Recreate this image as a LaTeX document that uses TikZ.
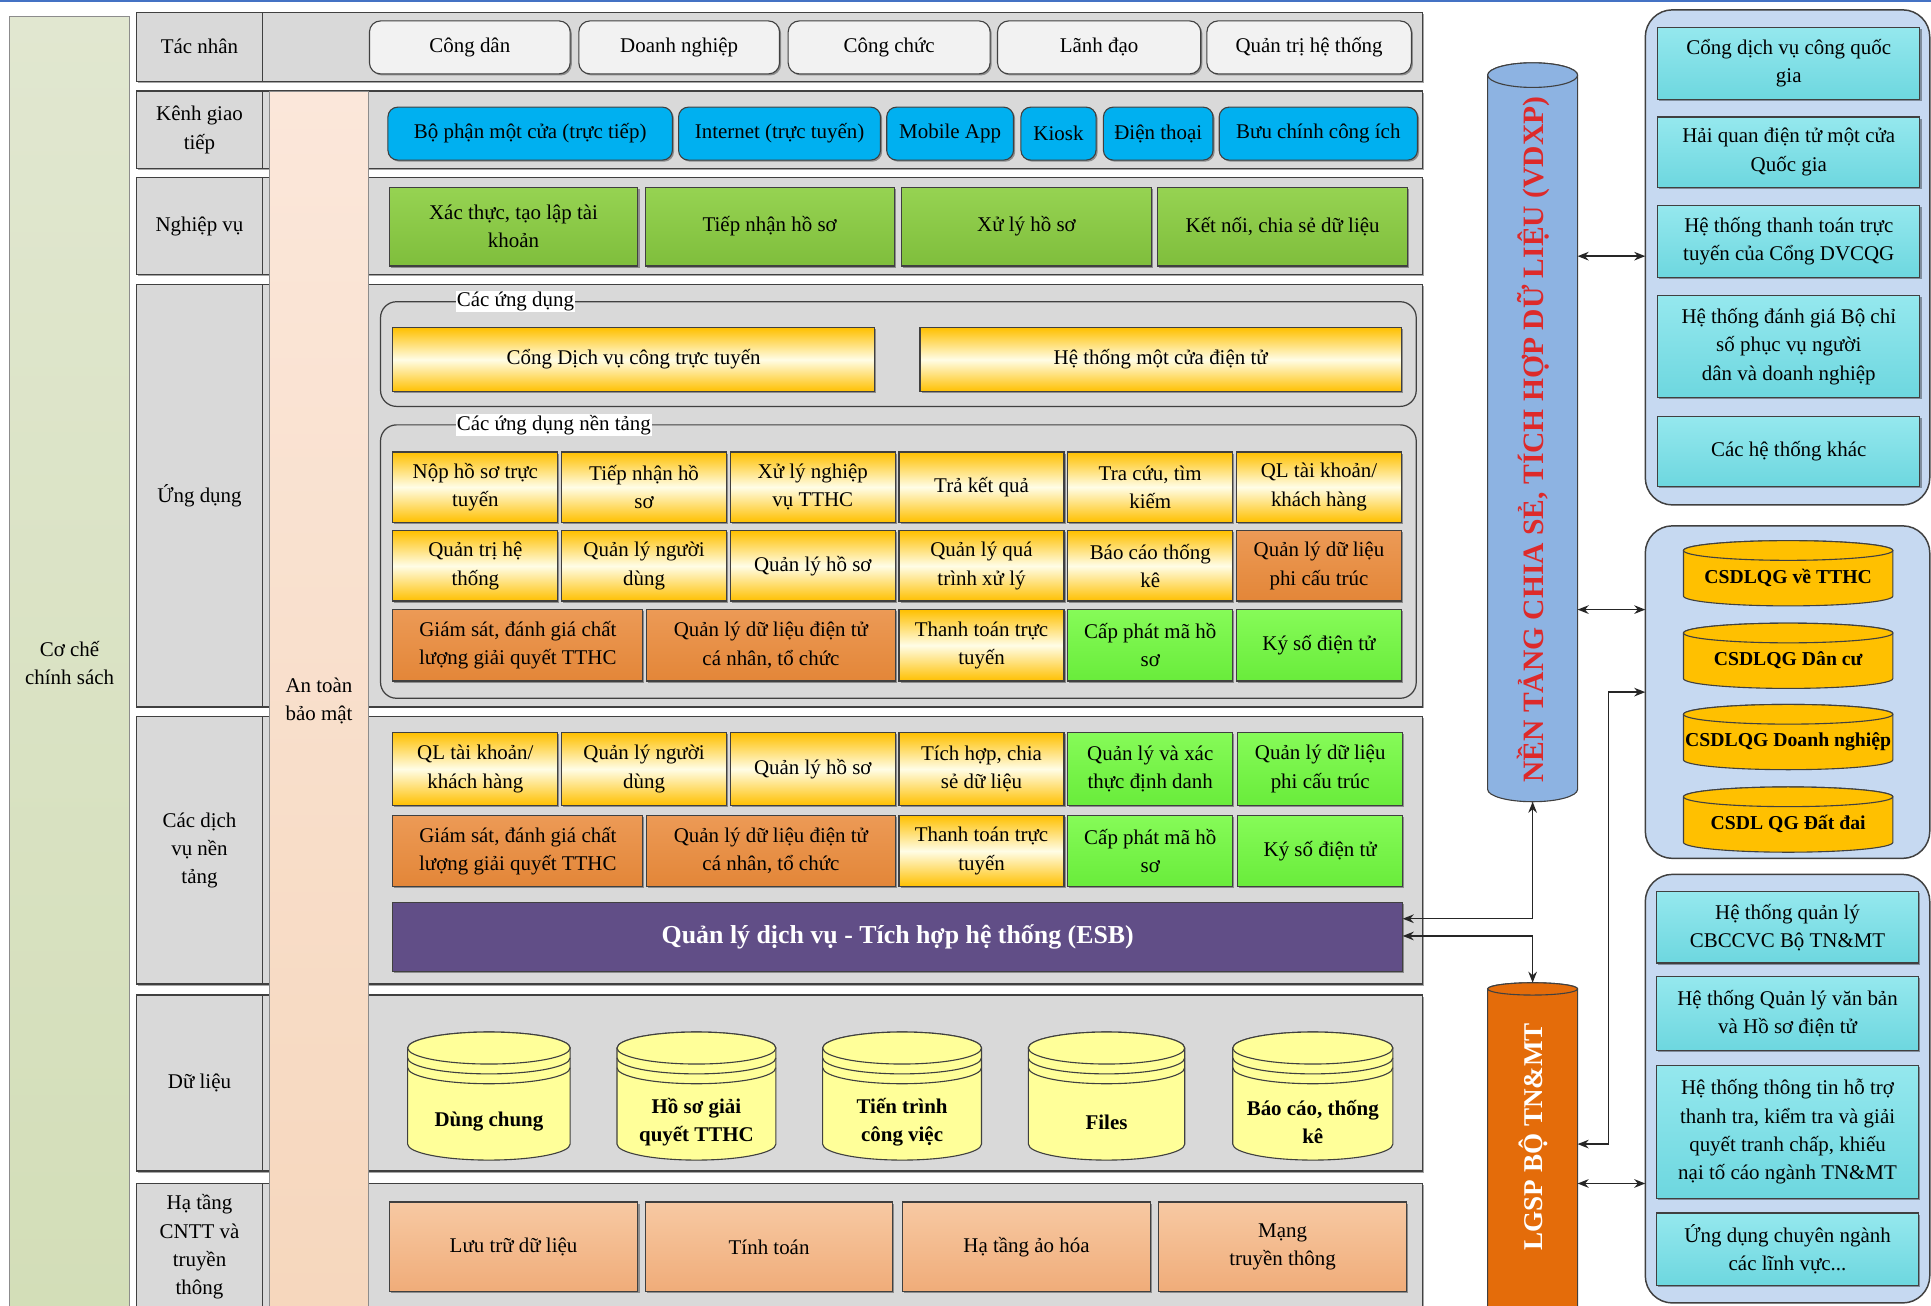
\documentclass[tikz,border=0pt]{standalone}
\usepackage{fontspec}
\setmainfont{Liberation Serif}
\usetikzlibrary{arrows.meta,shadows,calc}
\definecolor{panelgray}{HTML}{D9D9D9}
\definecolor{bordc}{HTML}{404040}
\definecolor{actorfill}{HTML}{F2F2F2}
\definecolor{chanblue}{HTML}{00B0F0}
\definecolor{bizgreenT}{HTML}{96D352}
\definecolor{bizgreenB}{HTML}{7FBE3C}
\definecolor{yel}{HTML}{FFC000}
\definecolor{yelmid}{HTML}{FFFDE6}
\definecolor{orgT}{HTML}{EC9A56}
\definecolor{orgB}{HTML}{E38638}
\definecolor{grnT}{HTML}{86FB58}
\definecolor{grnB}{HTML}{69EC3B}
\definecolor{esbc}{HTML}{614E87}
\definecolor{dbyel}{HTML}{FFFF99}
\definecolor{infT}{HTML}{F7C9A3}
\definecolor{infB}{HTML}{F0AC79}
\definecolor{vdxpc}{HTML}{8DB3E2}
\definecolor{vdxpred}{HTML}{DD2A2A}
\definecolor{grpc}{HTML}{C6D9F1}
\definecolor{cyT}{HTML}{95E8EE}
\definecolor{cyB}{HTML}{6DD7DF}
\definecolor{csdl}{HTML}{FFC000}
\definecolor{lgspc}{HTML}{E46C0A}
\definecolor{peachT}{HTML}{FBE7DA}
\definecolor{peachB}{HTML}{F6D7BD}
\definecolor{policyT}{HTML}{E1E7D0}
\definecolor{policyB}{HTML}{D3DEB8}
\definecolor{topblue}{HTML}{4472C4}
\newcommand\fsN{\fontsize{17}{23}\selectfont}
\newcommand\mybox[7]{%
  \pgfmathsetmacro\bxW{#5-(#3)}\pgfmathsetmacro\bxH{#6-(#4)}%
  \pgfmathsetmacro\bxX{(#3+#5)/2}\pgfmathsetmacro\bxY{(#4+#6)/2}%
  \node[#2, minimum width=\bxW pt, minimum height=\bxH pt] (#1) at (\bxX,\bxY) {#7};}
\newcommand\drawcyl[7]{%
  \pgfmathsetmacro\cyA{(#2+#3)/2}\pgfmathsetmacro\cyR{(#3-#2)/2}%
  \pgfmathsetmacro\cyT{#4+#6}\pgfmathsetmacro\cyB{#5-#6}%
  \path[draw=bordc, line width=0.9pt, fill=#1, #7] (#2,\cyT) -- (#2,\cyB)
    arc[start angle=180, end angle=360, x radius=\cyR pt, y radius=#6pt]
    -- (#3,\cyT) arc[start angle=0, end angle=180, x radius=\cyR pt, y radius=#6pt] -- cycle;
  \path[draw=bordc, line width=0.9pt, fill=#1] (\cyA,\cyT) ellipse[x radius=\cyR pt, y radius=#6pt];}
\newcommand\datacyl[5]{%
  \drawcyl{dbyel}{#1}{#2}{#3}{#4}{#5}{}%
  \pgfmathsetmacro\cyRa{#3+#5+8}\pgfmathsetmacro\cyRb{#3+#5+16}%
  \draw[draw=bordc, line width=0.9pt] (#1,\cyRa) arc[start angle=180,end angle=360,x radius=\cyR pt,y radius=#5pt];
  \draw[draw=bordc, line width=0.9pt] (#1,\cyRb) arc[start angle=180,end angle=360,x radius=\cyR pt,y radius=#5pt];}
\begin{document}
\begin{tikzpicture}[x=1pt,y=-1pt,
  every node/.style={inner sep=1pt, outer sep=0pt, align=center, font=\fsN},
  shad/.style={drop shadow={shadow xshift=1.3pt, shadow yshift=-1.3pt, opacity=.35, fill=black}},
  cell/.style={draw=bordc, line width=0.9pt, shad},
  panel/.style={draw=bordc, line width=1.2pt, fill=panelgray, shad},
  lbl/.style={draw=bordc, line width=1.2pt, fill=panelgray},
  policycol/.style={draw=black!45, line width=0.8pt, top color=policyT, bottom color=policyB},
  peachcol/.style={draw=black!45, line width=0.8pt, top color=peachT, bottom color=peachB},
  actor/.style={cell, fill=actorfill, rounded corners=9pt},
  chan/.style={cell, fill=chanblue, rounded corners=8pt},
  biz/.style={cell, top color=bizgreenT, bottom color=bizgreenB},
  ybox/.style={cell, top color=yel, bottom color=yel, middle color=yelmid},
  obox/.style={cell, top color=orgT, bottom color=orgB},
  gbox/.style={cell, top color=grnT, bottom color=grnB},
  esbbox/.style={cell, fill=esbc, text=white, font=\bfseries\fontsize{21}{24}\selectfont},
  infra/.style={cell, top color=infT, bottom color=infB},
  grpline/.style={draw=bordc, line width=1pt, rounded corners=13pt},
  grp/.style={draw=bordc, line width=1.2pt, fill=grpc, rounded corners=22pt},
  cyan/.style={cell, top color=cyT, bottom color=cyB},
  holder/.style={draw=none, fill=none},
  dbtext/.style={font=\bfseries\fsN},
  csdltext/.style={font=\bfseries\fontsize{16}{20}\selectfont},
  conn/.style={line width=1.2pt, draw=black!85, arrows={Stealth[length=9pt,width=7pt]-Stealth[length=9pt,width=7pt]}}
]
\useasboundingbox (0,0) rectangle (1568,1060);
\begin{scope}
\clip (0,0) rectangle (1568,1060);
\fill[white] (0,0) rectangle (1568,1060);
\draw[topblue, line width=2pt] (0,1) -- (1568,1);

% policy column
\mybox{policy}{policycol}{8}{13}{105}{1064}{Cơ chế\\chính sách}

% rows
\mybox{rowA}{panel}{111}{10}{1155}{66}{}
\mybox{lA}{lbl}{111}{10}{213}{66}{Tác nhân}
\mybox{rowK}{panel}{111}{74}{1155}{137}{}
\mybox{lK}{lbl}{111}{74}{213}{137}{Kênh giao\\tiếp}
\mybox{rowN}{panel}{111}{144}{1155}{223}{}
\mybox{lN}{lbl}{111}{144}{213}{223}{Nghiệp vụ}
\mybox{rowU}{panel}{111}{231}{1155}{574}{}
\mybox{lU}{lbl}{111}{231}{213}{574}{Ứng dụng}
\mybox{rowS}{panel}{111}{582}{1155}{799}{}
\mybox{lS}{lbl}{111}{582}{213}{799}{Các dịch\\vụ nền\\tảng}
\mybox{rowD}{panel}{111}{808}{1155}{951}{}
\mybox{lD}{lbl}{111}{808}{213}{951}{Dữ liệu}
\mybox{rowH}{panel}{111}{961}{1155}{1064}{}
\mybox{lH}{lbl}{111}{961}{213}{1064}{Hạ tầng\\CNTT và\\truyền\\thông}

% security column
\mybox{security}{peachcol}{219}{74}{299}{1064}{An toàn\\bảo mật}

% actors
\mybox{a1}{actor}{300}{17}{463}{60}{Công dân}
\mybox{a2}{actor}{470}{17}{633}{60}{Doanh nghiệp}
\mybox{a3}{actor}{640}{17}{804}{60}{Công chức}
\mybox{a4}{actor}{810}{17}{975}{60}{Lãnh đạo}
\mybox{a5}{actor}{980}{17}{1146}{60}{Quản trị hệ thống}

% channels
\mybox{c1}{chan}{315}{87}{546}{130}{Bộ phận một cửa (trực tiếp)}
\mybox{c2}{chan}{551}{87}{715}{130}{Internet (trực tuyến)}
\mybox{c3}{chan}{720}{87}{823}{130}{Mobile App}
\mybox{c4}{chan}{829}{87}{890}{130}{Kiosk}
\mybox{c5}{chan}{896}{87}{985}{130}{Điện thoại}
\mybox{c6}{chan}{990}{87}{1151}{130}{Bưu chính công ích}

% business
\mybox{b1}{biz}{316}{152}{518}{216}{Xác thực, tạo lập tài\\khoản}
\mybox{b2}{biz}{524}{152}{726}{216}{Tiếp nhận hồ sơ}
\mybox{b3}{biz}{732}{152}{935}{216}{Xử lý hồ sơ}
\mybox{b4}{biz}{940}{152}{1143}{216}{Kết nối, chia sẻ dữ liệu}

% applications
\mybox{gApps}{grpline}{309}{245}{1150}{330}{}
\node[anchor=west, fill=white] (gAppsL) at (370,245) {Các ứng dụng};
\mybox{u1}{ybox}{319}{266}{710}{318}{Cổng Dịch vụ công trực tuyến}
\mybox{u2}{ybox}{747}{266}{1138}{318}{Hệ thống một cửa điện tử}

\mybox{gPlat}{grpline}{309}{345}{1150}{567}{}
\node[anchor=west, fill=white] (gPlatL) at (370,345) {Các ứng dụng nền tảng};
\mybox{p11}{ybox}{319}{367}{453}{424}{Nộp hồ sơ trực\\tuyến}
\mybox{p12}{ybox}{456}{367}{590}{424}{Tiếp nhận hồ\\sơ}
\mybox{p13}{ybox}{593}{367}{727}{424}{Xử lý nghiệp\\vụ TTHC}
\mybox{p14}{ybox}{730}{367}{864}{424}{Trả kết quả}
\mybox{p15}{ybox}{867}{367}{1001}{424}{Tra cứu, tìm\\kiếm}
\mybox{p16}{ybox}{1004}{367}{1138}{424}{QL tài khoản/\\khách hàng}
\mybox{p21}{ybox}{319}{431}{453}{488}{Quản trị hệ\\thống}
\mybox{p22}{ybox}{456}{431}{590}{488}{Quản lý người\\dùng}
\mybox{p23}{ybox}{593}{431}{727}{488}{Quản lý hồ sơ}
\mybox{p24}{ybox}{730}{431}{864}{488}{Quản lý quá\\trình xử lý}
\mybox{p25}{ybox}{867}{431}{1001}{488}{Báo cáo thống\\kê}
\mybox{p26}{obox}{1004}{431}{1138}{488}{Quản lý dữ liệu\\phi cấu trúc}
\mybox{p31}{obox}{319}{495}{522}{553}{Giám sát, đánh giá chất\\lượng giải quyết TTHC}
\mybox{p32}{obox}{525}{495}{727}{553}{Quản lý dữ liệu điện tử\\cá nhân, tổ chức}
\mybox{p33}{ybox}{730}{495}{864}{553}{Thanh toán trực\\tuyến}
\mybox{p34}{gbox}{867}{495}{1001}{553}{Cấp phát mã hồ\\sơ}
\mybox{p35}{gbox}{1004}{495}{1138}{553}{Ký số điện tử}

% platform services
\mybox{s11}{ybox}{319}{595}{453}{654}{QL tài khoản/\\khách hàng}
\mybox{s12}{ybox}{456}{595}{590}{654}{Quản lý người\\dùng}
\mybox{s13}{ybox}{593}{595}{727}{654}{Quản lý hồ sơ}
\mybox{s14}{ybox}{730}{595}{864}{654}{Tích hợp, chia\\sẻ dữ liệu}
\mybox{s15}{gbox}{867}{595}{1001}{654}{Quản lý và xác\\thực định danh}
\mybox{s16}{gbox}{1005}{595}{1139}{654}{Quản lý dữ liệu\\phi cấu trúc}
\mybox{s21}{obox}{319}{662}{522}{720}{Giám sát, đánh giá chất\\lượng giải quyết TTHC}
\mybox{s22}{obox}{525}{662}{727}{720}{Quản lý dữ liệu điện tử\\cá nhân, tổ chức}
\mybox{s23}{ybox}{730}{662}{864}{720}{Thanh toán trực\\tuyến}
\mybox{s24}{gbox}{867}{662}{1001}{720}{Cấp phát mã hồ\\sơ}
\mybox{s25}{gbox}{1005}{662}{1139}{720}{Ký số điện tử}
\mybox{esb}{esbbox}{319}{733}{1139}{789}{Quản lý dịch vụ - Tích hợp hệ thống (ESB)}

% data
\datacyl{331}{463}{838}{942}{13}
\mybox{d1}{holder, dbtext}{331}{880}{463}{942}{Dùng chung}
\datacyl{501}{630}{838}{942}{13}
\mybox{d2}{holder, dbtext}{501}{880}{630}{942}{Hồ sơ giải\\quyết TTHC}
\datacyl{668}{797}{838}{942}{13}
\mybox{d3}{holder, dbtext}{668}{880}{797}{942}{Tiến trình\\công việc}
\datacyl{835}{962}{838}{942}{13}
\mybox{d4}{holder, dbtext}{835}{880}{962}{942}{Files}
\datacyl{1001}{1131}{838}{942}{13}
\mybox{d5}{holder, dbtext}{1001}{880}{1131}{942}{Báo cáo, thống\\kê}

% infrastructure
\mybox{i1}{infra}{316}{976}{518}{1049}{Lưu trữ dữ liệu}
\mybox{i2}{infra}{524}{976}{725}{1049}{Tính toán}
\mybox{i3}{infra}{733}{976}{934}{1049}{Hạ tầng ảo hóa}
\mybox{i4}{infra}{941}{976}{1142}{1049}{Mạng\\truyền thông}

% VDXP
\drawcyl{vdxpc}{1208}{1281}{51}{651}{10}{}
\mybox{vdxp}{holder}{1208}{51}{1281}{651}{}
\node[rotate=90, text=vdxpred, font=\bfseries\fontsize{24}{28}\selectfont] (vdxptxt) at (1245,357) {NỀN TẢNG CHIA SẺ, TÍCH HỢP DỮ LIỆU (VDXP)};

% LGSP
\drawcyl{lgspc}{1208}{1281}{798}{1090}{5}{}
\mybox{lgsp}{holder}{1208}{798}{1281}{1090}{}
\node[rotate=90, text=white, font=\bfseries\fontsize{22}{26}\selectfont] (lgsptxt) at (1245,923) {LGSP BỘ TN\&MT};

% right group 1
\mybox{grp1}{grp}{1336}{8}{1567}{410}{}
\mybox{r1}{cyan}{1346}{22}{1559}{81}{Cổng dịch vụ công quốc\\gia}
\mybox{r2}{cyan}{1346}{95}{1559}{152}{Hải quan điện tử một cửa\\Quốc gia}
\mybox{r3}{cyan}{1346}{167}{1559}{225}{Hệ thống thanh toán trực\\tuyến của Cổng DVCQG}
\mybox{r4}{cyan}{1346}{240}{1559}{323}{Hệ thống đánh giá Bộ chỉ\\số phục vụ người\\dân và doanh nghiệp}
\mybox{r5}{cyan}{1346}{338}{1559}{395}{Các hệ thống khác}

% right group 2
\mybox{grp2}{grp}{1336}{427}{1567}{697}{}
\drawcyl{csdl}{1367}{1537}{439}{492}{8}{}
\node[csdltext] (q1) at (1452,469) {CSDLQG về TTHC};
\drawcyl{csdl}{1367}{1537}{506}{559}{8}{}
\node[csdltext] (q2) at (1452,536) {CSDLQG Dân cư};
\drawcyl{csdl}{1367}{1537}{572}{625}{8}{}
\node[csdltext] (q3) at (1452,602) {CSDLQG Doanh nghiệp};
\drawcyl{csdl}{1367}{1537}{639}{692}{8}{}
\node[csdltext] (q4) at (1452,669) {CSDL QG Đất đai};

% right group 3
\mybox{grp3}{grp}{1336}{710}{1567}{1058}{}
\mybox{t1}{cyan}{1345}{724}{1558}{782}{Hệ thống quản lý\\CBCCVC Bộ TN\&MT}
\mybox{t2}{cyan}{1345}{793}{1558}{853}{Hệ thống Quản lý văn bản\\và Hồ sơ điện tử}
\mybox{t3}{cyan}{1345}{865}{1558}{973}{Hệ thống thông tin hỗ trợ\\thanh tra, kiểm tra và giải\\quyết tranh chấp, khiếu\\nại tố cáo ngành TN\&MT}
\mybox{t4}{cyan}{1345}{985}{1558}{1044}{Ứng dụng chuyên ngành\\các lĩnh vực...}

% connectors
\draw[conn] (vdxp.east |- 0,208) -- (grp1.west |- 0,208);
\draw[conn] (vdxp.east |- 0,495) -- (grp2.west |- 0,495);
\coordinate (lgbend) at (1306,562);
\draw[conn] (lgsp.east |- 0,929) -| (lgbend) -- (grp2.west |- lgbend);
\draw[conn] (lgsp.east |- 0,961) -- (grp3.west |- 0,961);
\draw[conn] (esb.east |- 0,746) -| (vdxp.south);
\draw[conn] (esb.east |- 0,760) -| (lgsp.north);
\end{scope}
\end{tikzpicture}
\end{document}
